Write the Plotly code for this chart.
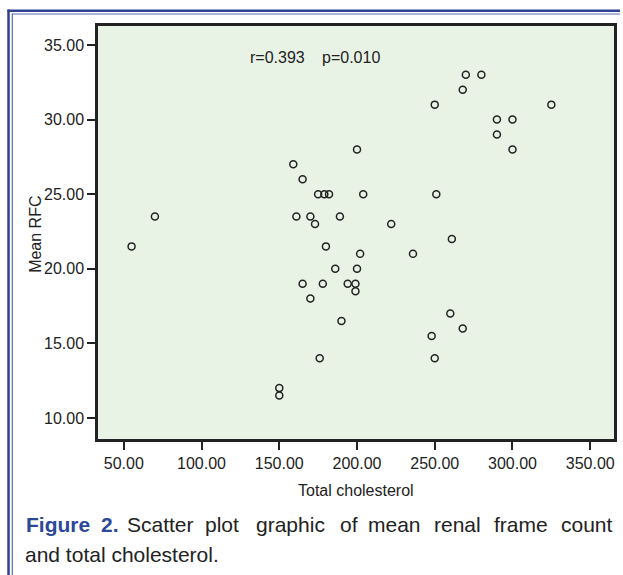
import plotly.graph_objects as go

# ---- data ----
total_cholesterol = [55, 70, 150, 150, 159, 161, 165, 165, 170, 170, 173, 175, 176, 178,
                     179, 180, 182, 186, 189, 190, 194, 199, 199, 200, 200, 202, 204, 222,
                     236, 248, 250, 250, 251, 260, 261, 268, 268, 270, 280, 290, 290, 300,
                     300, 325]
mean_rfc = [21.5, 23.5, 12, 11.5, 27, 23.5, 26, 19, 23.5, 18, 23, 25, 14, 19,
            25, 21.5, 25, 20, 23.5, 16.5, 19, 19, 18.5, 28, 20, 21, 25, 23,
            21, 15.5, 14, 31, 25, 17, 22, 16, 32, 33, 33, 30, 29, 30,
            28, 31]
x_ticks = [50, 100, 150, 200, 250, 300, 350]
y_ticks = [10, 15, 20, 25, 30, 35]
stat_r = "r=0.393"
stat_p = "p=0.010"
x_title = "Total cholesterol"
y_title = "Mean RFC"
caption_bold = ["Figure", "2."]
caption_line1 = ["Scatter", "plot", "graphic", "of", "mean", "renal", "frame", "count"]
caption_line2 = "and total cholesterol."

W, H = 623, 575
L, R, T, B = 98, 6, 26, 136
PW, PH = W - L - R, H - T - B

def px(xp):
    return (xp - L) / PW

def py(yp):
    return (H - B - yp) / PH

FONT = "Arial, Liberation Sans, Helvetica, sans-serif"
INK = "#222222"

fig = go.Figure()
fig.add_trace(go.Scatter(
    x=total_cholesterol, y=mean_rfc, mode="markers",
    marker=dict(symbol="circle-open", size=7, color=INK, line=dict(width=1.5, color=INK)),
    showlegend=False, hoverinfo="x+y"))

axis_common = dict(showgrid=False, zeroline=False, showline=True, mirror=True,
                   linecolor=INK, linewidth=2.5, ticks="outside", ticklen=8,
                   tickwidth=2, tickcolor=INK, tickformat=".2f",
                   tickfont=dict(family=FONT, size=16, color=INK))

fig.update_xaxes(range=[33.4, 365.3], tickvals=x_ticks, **axis_common)
fig.update_yaxes(range=[8.59, 36.27], tickvals=y_ticks, **axis_common)

annotations = [
    dict(text=stat_r, x=px(249), y=py(57), xanchor="left", yanchor="middle"),
    dict(text=stat_p, x=px(321), y=py(57), xanchor="left", yanchor="middle"),
    dict(text=x_title, x=px(358), y=py(490), xanchor="center", yanchor="middle"),
    dict(text=y_title, x=px(35.5), y=py(234), xanchor="center", yanchor="middle", textangle=-90),
]
for a in annotations:
    a.update(xref="paper", yref="paper", showarrow=False,
             font=dict(family=FONT, size=16, color=INK))

cap_font = dict(family=FONT, size=21, color=INK)
for w, xc in zip(caption_bold, [58, 110.5]):
    annotations.append(dict(text="<b>" + w + "</b>", x=px(xc), y=py(524),
                            xref="paper", yref="paper", showarrow=False, xanchor="center",
                            yanchor="middle", font=dict(family=FONT, size=21, color="#2b4899")))
word_c = [161, 222.5, 291.5, 350, 396.5, 460, 523.5, 589.5]
for w, xc in zip(caption_line1, word_c):
    annotations.append(dict(text=w, x=px(xc), y=py(524), xref="paper", yref="paper",
                            showarrow=False, xanchor="center", yanchor="middle", font=cap_font))
annotations.append(dict(text=caption_line2, x=px(23), y=py(554), xref="paper", yref="paper",
                        showarrow=False, xanchor="left", yanchor="middle", font=cap_font))

shapes = [
    dict(type="line", xref="paper", yref="paper", x0=px(7), x1=px(W), y0=py(10.8), y1=py(10.8),
         line=dict(color="#2f4195", width=2.5)),
    dict(type="line", xref="paper", yref="paper", x0=px(11.5), x1=px(W), y0=py(14), y1=py(14),
         line=dict(color="#5a6bb5", width=1.2)),
    dict(type="line", xref="paper", yref="paper", x0=px(8), x1=px(8), y0=py(9.5), y1=py(H),
         line=dict(color="#2f4195", width=2.5)),
    dict(type="line", xref="paper", yref="paper", x0=px(11.8), x1=px(11.8), y0=py(13.4), y1=py(H),
         line=dict(color="#5a6bb5", width=1.2)),
]

fig.update_layout(
    width=W, height=H, autosize=False,
    margin=dict(l=L, r=R, t=T, b=B, pad=0),
    paper_bgcolor="white", plot_bgcolor="#e8f3e6",
    annotations=annotations, shapes=shapes,
    font=dict(family=FONT, color=INK),
)

fig.write_html("out.html", config={"displayModeBar": False},
               post_script="document.body.style.margin='0';document.body.style.overflow='hidden';")
